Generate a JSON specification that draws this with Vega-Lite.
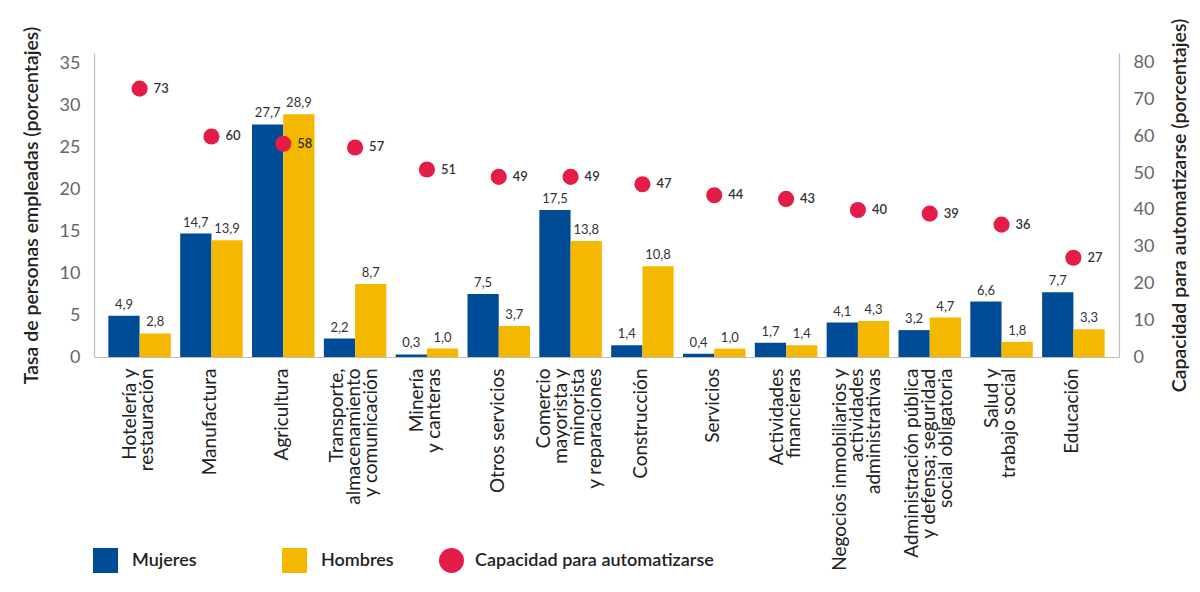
{
  "$schema": "https://vega.github.io/schema/vega-lite/v6.json",
  "width": 1025,
  "height": 304,
  "autosize": {"type": "none"},
  "padding": {"left": 94, "top": 53, "right": 81, "bottom": 235},
  "background": "white",
  "config": {
    "view": {"stroke": null},
    "font": "Lato",
    "locale": {"number": {"decimal": ",", "thousands": ".", "grouping": [3], "currency": ["", " €"]}},
    "axis": {"grid": false, "ticks": false, "domainColor": "#BDBDBD", "domainWidth": 1.2}
  },
  "data": {
    "values": [
      {"sector": "Hotelería y|restauración", "Mujeres": 4.9, "Hombres": 2.8, "cap": 73},
      {"sector": "Manufactura", "Mujeres": 14.7, "Hombres": 13.9, "cap": 60},
      {"sector": "Agricultura", "Mujeres": 27.7, "Hombres": 28.9, "cap": 58},
      {"sector": "Transporte,|almacenamiento|y comunicación", "Mujeres": 2.2, "Hombres": 8.7, "cap": 57},
      {"sector": "Minería|y canteras", "Mujeres": 0.3, "Hombres": 1.0, "cap": 51},
      {"sector": "Otros servicios", "Mujeres": 7.5, "Hombres": 3.7, "cap": 49},
      {"sector": "Comercio|mayorista y|minorista|y reparaciones", "Mujeres": 17.5, "Hombres": 13.8, "cap": 49},
      {"sector": "Construcción", "Mujeres": 1.4, "Hombres": 10.8, "cap": 47},
      {"sector": "Servicios", "Mujeres": 0.4, "Hombres": 1.0, "cap": 44},
      {"sector": "Actividades|financieras", "Mujeres": 1.7, "Hombres": 1.4, "cap": 43},
      {"sector": "Negocios inmobiliarios y|actividades|administrativas", "Mujeres": 4.1, "Hombres": 4.3, "cap": 40},
      {"sector": "Administración pública|y defensa; seguridad|social obligatoria", "Mujeres": 3.2, "Hombres": 4.7, "cap": 39},
      {"sector": "Salud y|trabajo social", "Mujeres": 6.6, "Hombres": 1.8, "cap": 36},
      {"sector": "Educación", "Mujeres": 7.7, "Hombres": 3.3, "cap": 27}
    ]
  },
  "encoding": {
    "x": {
      "field": "sector",
      "type": "nominal",
      "sort": null,
      "scale": {"paddingInner": 0.13, "paddingOuter": 0.2},
      "axis": {
        "title": null,
        "labelAngle": -90,
        "labelAlign": "right",
        "labelBaseline": "middle",
        "labelExpr": "split(datum.value, '|')",
        "labelLineHeight": 17,
        "labelFontSize": 19,
        "labelColor": "#222222",
        "labelPadding": 11,
        "labelLimit": 400,
        "labelOffset": {
          "condition": [
            {"test": "length(split(datum.value, '|')) == 4", "value": -26.5},
            {"test": "length(split(datum.value, '|')) == 3", "value": -18},
            {"test": "length(split(datum.value, '|')) == 2", "value": -9.5}
          ],
          "value": -1
        }
      }
    }
  },
  "layer": [
    {
      "transform": [{"fold": ["Mujeres", "Hombres"], "as": ["sexo", "valor"]}],
      "encoding": {
        "y": {
          "field": "valor",
          "type": "quantitative",
          "scale": {"domain": [0, 36.2], "nice": false},
          "axis": {
            "orient": "left",
            "values": [0, 5, 10, 15, 20, 25, 30, 35],
            "title": "Tasa de personas empleadas (porcentajes)",
            "titleFontSize": 19.5,
            "titleFontWeight": 600,
            "titleColor": "#222222",
            "titlePadding": 18,
            "labelFontSize": 18,
            "labelColor": "#666666",
            "labelPadding": 14
          }
        },
        "xOffset": {"field": "sexo", "type": "nominal", "scale": {"domain": ["Mujeres", "Hombres"], "paddingInner": 0, "paddingOuter": 0}}
      },
      "layer": [
        {
          "mark": {"type": "bar"},
          "encoding": {
            "color": {
              "field": "sexo",
              "type": "nominal",
              "scale": {"domain": ["Mujeres", "Hombres"], "range": ["#004B96", "#F4B800"]},
              "legend": {
                "title": null,
                "orient": "none",
                "direction": "horizontal",
                "legendX": -1,
                "legendY": 495,
                "symbolType": "square",
                "symbolSize": 625,
                "symbolStrokeWidth": 0,
                "labelFontSize": 18,
                "labelFontWeight": 600,
                "labelColor": "#222222",
                "labelOffset": 14,
                "labelLimit": 400,
                "columnPadding": 85,
                "padding": 0
              }
            }
          }
        },
        {
          "mark": {"type": "text", "baseline": "bottom", "dy": -4, "fontSize": 13, "color": "#333333"},
          "encoding": {"text": {"field": "valor", "type": "quantitative", "format": ".1f"}}
        }
      ]
    },
    {
      "encoding": {
        "y": {
          "field": "cap",
          "type": "quantitative",
          "scale": {"domain": [0, 82.7], "nice": false},
          "axis": {
            "orient": "right",
            "values": [0, 10, 20, 30, 40, 50, 60, 70, 80],
            "title": "Capacidad para automatizarse (porcentajes)",
            "titleAngle": -90,
            "titleFontSize": 19.5,
            "titleFontWeight": 600,
            "titleColor": "#222222",
            "titlePadding": 36,
            "labelFontSize": 18,
            "labelColor": "#666666",
            "labelPadding": 14
          }
        }
      },
      "layer": [
        {
          "mark": {"type": "point", "filled": true, "size": 260, "opacity": 1, "shape": "circle"},
          "encoding": {
            "fill": {
              "datum": "Capacidad para automatizarse",
              "type": "nominal",
              "scale": {"domain": ["Capacidad para automatizarse"], "range": ["#E31C48"]},
              "legend": {
                "title": null,
                "orient": "none",
                "legendX": 345,
                "legendY": 495,
                "symbolType": "circle",
                "symbolSize": 625,
                "symbolStrokeWidth": 0,
                "labelFontSize": 18,
                "labelFontWeight": 600,
                "labelColor": "#222222",
                "labelOffset": 11,
                "labelLimit": 400,
                "padding": 0
              }
            }
          }
        },
        {
          "mark": {"type": "text", "align": "left", "baseline": "middle", "dx": 14, "fontSize": 13, "fontWeight": 600, "color": "#333333"},
          "encoding": {"text": {"field": "cap", "type": "quantitative"}}
        }
      ]
    }
  ],
  "resolve": {"scale": {"y": "independent"}}
}
